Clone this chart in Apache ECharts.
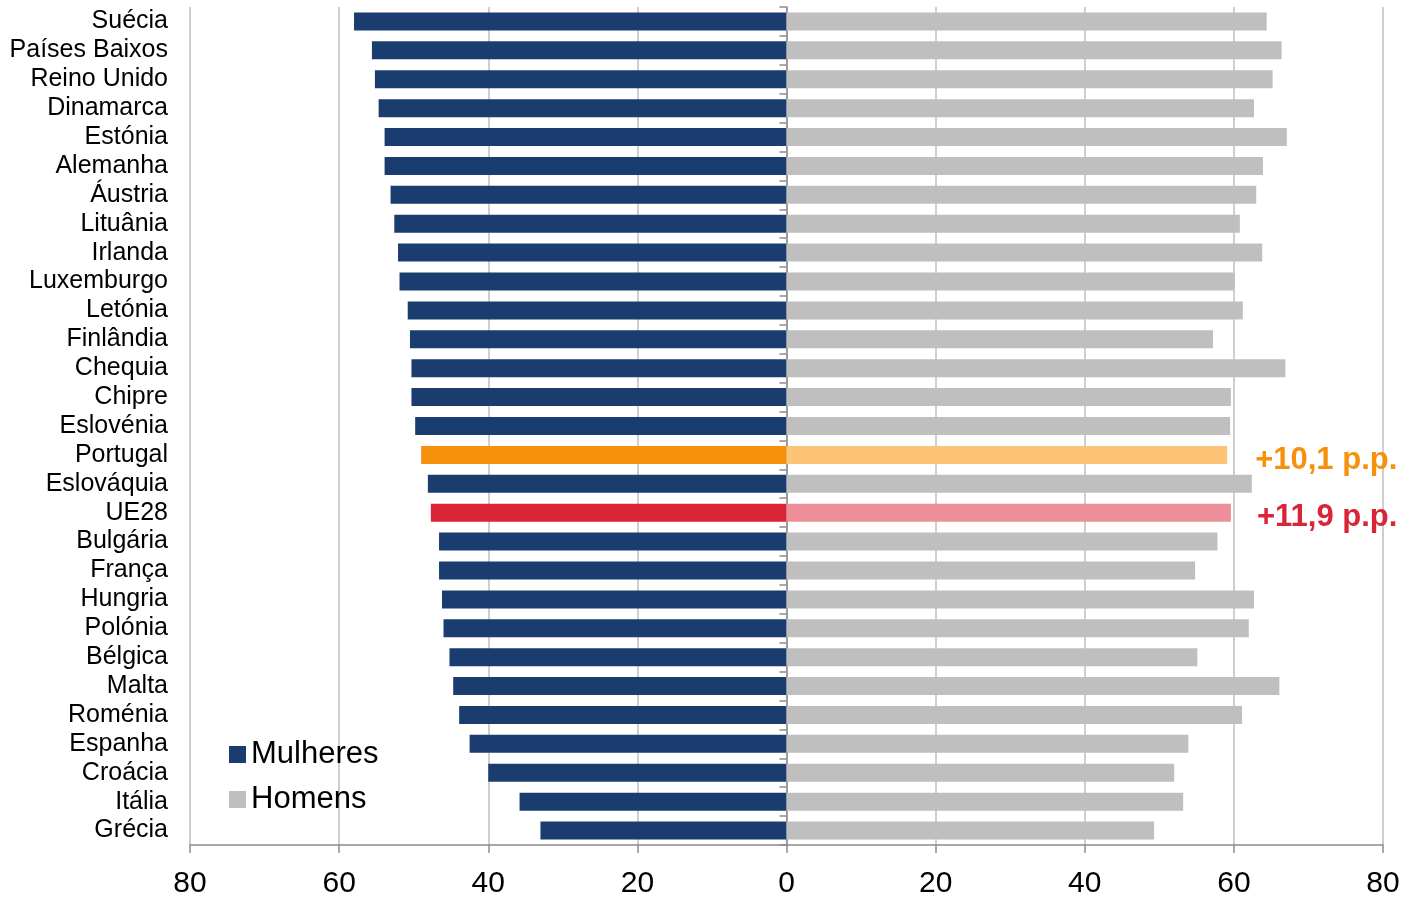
<!DOCTYPE html>
<html>
<head>
<meta charset="utf-8">
<script src="https://cdn.jsdelivr.net/npm/echarts@6/dist/echarts.min.js"></script>
<style>
html,body{margin:0;padding:0;background:#fff;}
#chart{width:1409px;height:898px;}
</style>
</head>
<body>
<div id="chart"></div>
<script>
const categories = ['Suécia','Países Baixos','Reino Unido','Dinamarca','Estónia','Alemanha','Áustria','Lituânia','Irlanda','Luxemburgo','Letónia','Finlândia','Chequia','Chipre','Eslovénia','Portugal','Eslováquia','UE28','Bulgária','França','Hungria','Polónia','Bélgica','Malta','Roménia','Espanha','Croácia','Itália','Grécia'];
const women = [58.0,55.6,55.2,54.7,53.9,53.9,53.1,52.6,52.1,51.9,50.8,50.5,50.3,50.3,49.8,49.0,48.1,47.7,46.6,46.6,46.2,46.0,45.2,44.7,43.9,42.5,40.0,35.8,33.0];
const men = [64.4,66.4,65.2,62.7,67.1,63.9,63.0,60.8,63.8,60.1,61.2,57.2,66.9,59.6,59.5,59.1,62.4,59.6,57.8,54.8,62.7,62.0,55.1,66.1,61.1,53.9,52.0,53.2,49.3];
const xTicks = [-80,-60,-40,-20,0,20,40,60,80];
const notes = {'Portugal':'+10,1 p.p.','UE28':'+11,9 p.p.'};

const C = {
  women:'#1B3C6E', men:'#BFBFBF',
  ptW:'#F7910B', ptM:'#FDC477',
  euW:'#D92535', euM:'#EC8F99',
  ptText:'#F7910B', euText:'#D92535'
};
const FONT = 'Liberation Sans, Arial, sans-serif';

const womenData = women.map((v,i)=>{
  const c = categories[i];
  const item = {value:-v};
  if (c==='Portugal') item.itemStyle={color:C.ptW};
  if (c==='UE28') item.itemStyle={color:C.euW};
  return item;
});
const menData = men.map((v,i)=>{
  const c = categories[i];
  const item = {value:v};
  if (c==='Portugal') {
    item.itemStyle={color:C.ptM};
    item.label={show:true,position:'right',distance:28,formatter:notes[c],color:C.ptText,fontSize:31,fontWeight:'bold',fontFamily:FONT,offset:[0,6]};
  }
  if (c==='UE28') {
    item.itemStyle={color:C.euM};
    item.label={show:true,position:'right',distance:26,formatter:notes[c],color:C.euText,fontSize:31,fontWeight:'bold',fontFamily:FONT,offset:[0,5]};
  }
  return item;
});

const chart = echarts.init(document.getElementById('chart'));
chart.setOption({
  animation:false,
  textStyle:{fontFamily:FONT},
  grid:{left:190,right:26,top:7,bottom:53,containLabel:false,outerBoundsMode:'none'},
  legend:{
    orient:'vertical', left:224, top:734,
    itemWidth:17, itemHeight:17, itemGap:14, itemTextGap:8,
    icon:'rect',
    textStyle:{fontSize:31,color:'#000',fontFamily:FONT},
    data:['Mulheres','Homens']
  },
  xAxis:{
    type:'value', min:xTicks[0], max:xTicks[xTicks.length-1], interval:20,
    axisLine:{show:true,onZero:false,lineStyle:{color:'#8C8C8C',width:1.5}},
    axisTick:{show:true,length:8,lineStyle:{color:'#8C8C8C',width:1.5}},
    axisLabel:{fontSize:30,color:'#000',margin:24,formatter:v=>String(Math.abs(v))},
    splitLine:{show:true,lineStyle:{color:'#BFBFBF',width:1.5}}
  },
  yAxis:[
    {
      type:'category', data:categories, inverse:true, position:'left',
      axisLine:{show:false,onZero:false}, axisTick:{show:false},
      axisLabel:{fontSize:25,color:'#000',margin:22,interval:0,padding:[4,0,0,0]}
    },
    {
      type:'category', data:categories, inverse:true, position:'left',
      axisLine:{show:true,onZero:true,lineStyle:{color:'#8C8C8C',width:1.5}},
      axisTick:{show:true,inside:false,length:7,interval:0,lineStyle:{color:'#8C8C8C',width:1.5}},
      axisLabel:{show:false}
    }
  ],
  series:[
    {
      name:'Mulheres', type:'bar', stack:'t', yAxisIndex:0, barWidth:18,
      itemStyle:{color:C.women}, data:womenData
    },
    {
      name:'Homens', type:'bar', stack:'t', yAxisIndex:0, barWidth:18,
      itemStyle:{color:C.men}, data:menData
    }
  ]
});
</script>
</body>
</html>
